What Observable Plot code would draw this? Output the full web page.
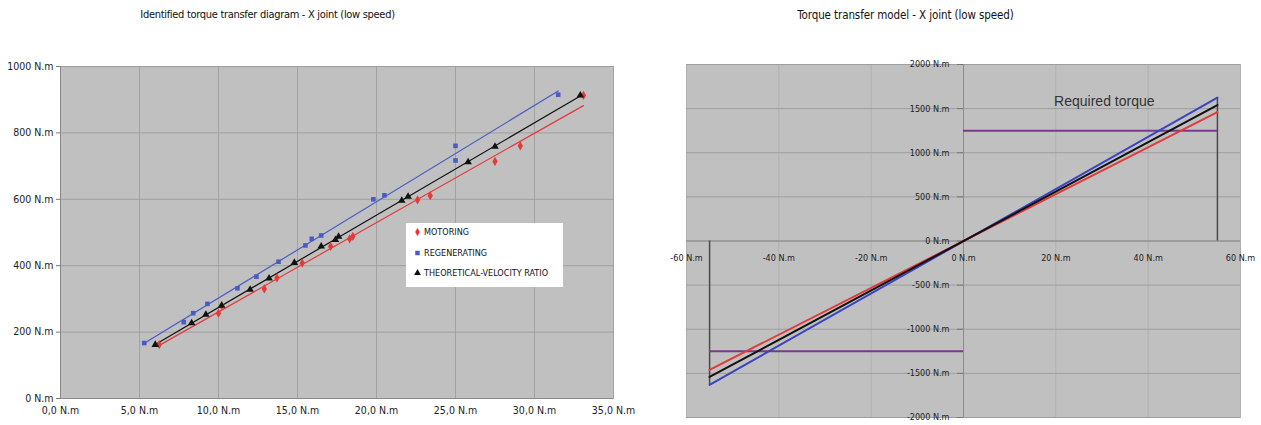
<!DOCTYPE html>
<html>
<head>
<meta charset="utf-8">
<script src="https://cdn.jsdelivr.net/npm/d3@7"></script>
<script src="https://cdn.jsdelivr.net/npm/@observablehq/plot@0.6"></script>
<style>
  html, body { margin: 0; padding: 0; background: #fff; }
  #root { position: relative; width: 1261px; height: 425px; background: #fff; overflow: hidden;
          font-family: "Liberation Sans Narrow", "DejaVu Sans Condensed", "Liberation Sans", sans-serif; }
  .title { position: absolute; top: 8px; color: #111; text-align: center; white-space: nowrap; }
  #legend { position: absolute; left: 406px; top: 223px; width: 157px; height: 64px; background: #fff;
            font-size: 9px; color: #111; }
  #legend .row { position: absolute; left: 8px; display: flex; align-items: center; height: 10px; }
  #legend svg { margin-right: 3px; }
  #left, #right { position: absolute; top: 0; }
  #left svg { overflow: visible; }
</style>
</head>
<body>
<div id="root">
  <div id="right" style="left:630px"></div>
  <div id="left" style="left:0"></div>
  <div class="title" id="t1" style="left:0;width:535px;font-size:11px;letter-spacing:-0.3px">Identified torque transfer diagram - X joint (low speed)</div>
  <div class="title" id="t2" style="left:630px;width:551px;font-size:11.5px;letter-spacing:-0.1px">Torque transfer model - X joint (low speed)</div>
  <div id="legend"></div>
</div>
<script>
// ---------- Left chart data ----------
const seriesNames = ["MOTORING", "REGENERATING", "THEORETICAL-VELOCITY RATIO"];
const motoringX = [6.25, 10.0, 10.2, 12.9, 13.7, 15.3, 17.1, 18.3, 18.5, 22.6, 23.4, 27.5, 29.1, 33.1];
const motoringY = [162, 257, 280, 330, 363, 408, 458, 481, 488, 598, 611, 714, 761, 913];
const regenX = [5.3, 7.8, 8.4, 9.3, 11.2, 12.4, 13.8, 15.5, 15.9, 16.5, 19.8, 20.5, 25.0, 25.0, 31.5];
const regenY = [167, 230, 257, 285, 332, 367, 412, 461, 481, 491, 600, 612, 761, 717, 915];
const theoX = [6.0, 8.3, 9.2, 10.2, 12.0, 13.2, 14.8, 16.5, 17.4, 17.6, 21.6, 22.0, 25.8, 27.5, 32.9];
const theoY = [162, 227, 253, 280, 328, 362, 409, 458, 478, 488, 596, 608, 712, 759, 913];
const leftXTicks = [0, 5, 10, 15, 20, 25, 30, 35];
const leftYTicks = [0, 200, 400, 600, 800, 1000];

// ---------- Right chart data ----------
const modelX = [-55, 55];
const modelMotoring = [-1460, 1460];
const modelTheo = [-1540, 1540];
const modelRegen = [-1630, 1625];
const requiredTorque = 1250;
const rightXTicks = [-60, -40, -20, 0, 20, 40, 60];
const rightYTicks = [-2000, -1500, -1000, -500, 0, 500, 1000, 1500, 2000];
const annotation = [{x: 30.5, y: 1580, text: "Required torque"}];

const RED = "#e53a3a", BLUE = "#4a5cc4", BLACK = "#111";
const toRows = (xs, ys) => xs.map((x, i) => ({x, y: ys[i]}));
const mot = toRows(motoringX, motoringY);
const reg = toRows(regenX, regenY);
const theo = toRows(theoX, theoY);
const fmtL = d => d.toFixed(1).replace(".", ",") + " N.m";
const fmtN = d => d + " N.m";
const FONT = '"Liberation Sans Narrow", "DejaVu Sans Condensed", "Liberation Sans", sans-serif';

const left = Plot.plot({
  width: 630, height: 425,
  marginLeft: 60, marginRight: 17, marginTop: 66, marginBottom: 27,
  style: {fontFamily: FONT, fontSize: "10.5px", background: "transparent", color: "#222"},
  x: {domain: [0, 35]},
  y: {domain: [0, 1000]},
  marks: [
    Plot.frame({fill: "#c0c0c0", stroke: "#b4b4b4"}),
    Plot.gridX(leftXTicks, {stroke: "#a2a2a2", strokeOpacity: 1}),
    Plot.gridY(leftYTicks, {stroke: "#9e9e9e", strokeOpacity: 1}),
    Plot.axisX(leftXTicks, {tickFormat: fmtL, tickSize: 0, tickPadding: 8, label: null}),
    Plot.axisY(leftYTicks, {tickFormat: fmtN, tickSize: 4, tickPadding: 3, label: null, stroke: "#777"}),
    Plot.ruleX([0], {stroke: "#8a8a8a"}),
    Plot.ruleY([0], {stroke: "#8a8a8a"}),
    Plot.linearRegressionY(reg, {x: "x", y: "y", stroke: BLUE, ci: 0, strokeWidth: 1.2}),
    Plot.linearRegressionY(theo, {x: "x", y: "y", stroke: BLACK, ci: 0, strokeWidth: 1.2}),
    Plot.linearRegressionY(mot, {x: "x", y: "y", stroke: RED, ci: 0, strokeWidth: 1.2}),
    Plot.dot(reg, {x: "x", y: "y", symbol: "square", fill: BLUE, r: 2.6}),
    Plot.dot(mot, {x: "x", y: "y", symbol: "diamond", fill: RED, r: 2.8}),
    Plot.dot(theo, {x: "x", y: "y", symbol: "triangle", fill: BLACK, r: 2.8})
  ]
});
document.getElementById("left").appendChild(left);

const modelRows = (ys) => modelX.map((x, i) => ({x, y: ys[i]}));
const right = Plot.plot({
  width: 631, height: 425,
  marginLeft: 56, marginRight: 21, marginTop: 64, marginBottom: 8,
  style: {fontFamily: FONT, fontSize: "9px", background: "transparent", color: "#222"},
  x: {domain: [-60, 60], axis: null},
  y: {domain: [-2000, 2000], axis: null},
  marks: [
    Plot.frame({fill: "#c0c0c0", stroke: "#b4b4b4"}),
    Plot.gridX(rightXTicks, {stroke: "#b0b0b0", strokeOpacity: 1}),
    Plot.gridY(rightYTicks, {stroke: "#9e9e9e", strokeOpacity: 1}),
    Plot.ruleY([0], {stroke: "#8a8a8a"}),
    Plot.ruleX([0], {stroke: "#8a8a8a"}),
    Plot.ruleY(rightYTicks, {y: d => d, x1: -1.3, x2: 0, stroke: "#777"}),
    Plot.text(rightXTicks, {x: d => d, y: 0, text: fmtN, dy: 17, fill: "#222"}),
    Plot.text(rightYTicks, {x: 0, y: d => d, text: fmtN, textAnchor: "end", dx: -14, fill: "#222"}),
    Plot.ruleX([modelX[1]], {y1: 0, y2: modelRegen[1], stroke: "#4a4a4a", strokeWidth: 1.5}),
    Plot.ruleX([modelX[0]], {y1: modelRegen[0], y2: 0, stroke: "#4a4a4a", strokeWidth: 1.5}),
    Plot.ruleY([requiredTorque], {x1: 0, x2: modelX[1], stroke: "#7a3a8c", strokeWidth: 2}),
    Plot.ruleY([-requiredTorque], {x1: modelX[0], x2: 0, stroke: "#7a3a8c", strokeWidth: 2}),
    Plot.line(modelRows(modelRegen), {x: "x", y: "y", stroke: "#3a44c0", strokeWidth: 2}),
    Plot.line(modelRows(modelMotoring), {x: "x", y: "y", stroke: "#e33a3a", strokeWidth: 2}),
    Plot.line(modelRows(modelTheo), {x: "x", y: "y", stroke: BLACK, strokeWidth: 2}),
    Plot.text(annotation, {x: "x", y: "y", text: "text", fontSize: 14, fill: "#333",
      fontFamily: '"Liberation Sans", Arial, sans-serif'})
  ]
});
document.getElementById("right").appendChild(right);

// ---------- Legend ----------
const legend = document.getElementById("legend");
const legendSym = [["diamond", RED], ["square", BLUE], ["triangle", BLACK]];
const symMap = {diamond: d3.symbolDiamond, square: d3.symbolSquare, triangle: d3.symbolTriangle};
seriesNames.forEach((name, i) => {
  const row = document.createElement("div");
  row.className = "row";
  row.style.top = (4 + i * 20.5) + "px";
  const [s, c] = legendSym[i];
  const path = d3.symbol(symMap[s], 20)();
  row.innerHTML = `<svg width="7" height="8" viewBox="-3.5 -4 7 8"><path d="${path}" fill="${c}"/></svg><span>${name}</span>`;
  legend.appendChild(row);
});
</script>
</body>
</html>
